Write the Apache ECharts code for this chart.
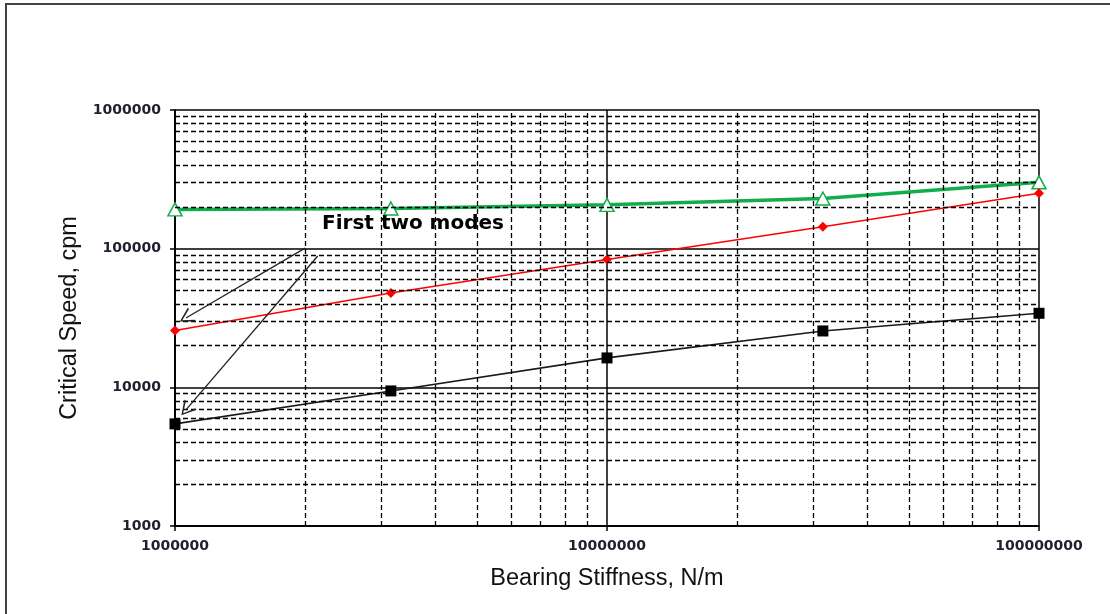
<!DOCTYPE html>
<html>
<head>
<meta charset="utf-8">
<script src="https://cdn.jsdelivr.net/npm/echarts@6/dist/echarts.min.js"></script>
<style>
html,body{margin:0;padding:0;background:#fff;}
#chart{width:1110px;height:614px;}
</style>
</head>
<body>
<div id="chart"></div>
<script>
// Bearing stiffness (N/m)
const stiffness = [1e6, 3.16e6, 1e7, 3.16e7, 1e8];
// Critical speeds (cpm)
const modeGreen = [192000, 195000, 207000, 230000, 301000];
const modeRed   = [25700, 47900, 83500, 144000, 251000];
const modeBlack = [5450, 9420, 16300, 25500, 34200];
// Tick labels
const xTickLabels = {1000000: '1000000', 10000000: '10000000', 100000000: '100000000'};
const yTickLabels = {1000: '1000', 10000: '10000', 100000: '100000', 1000000: '1000000'};
// Minor grid values (2..9 per decade)
const xMinor = [2e6,3e6,4e6,5e6,6e6,7e6,8e6,9e6,2e7,3e7,4e7,5e7,6e7,7e7,8e7,9e7];
const yMinor = [2e3,3e3,4e3,5e3,6e3,7e3,8e3,9e3,2e4,3e4,4e4,5e4,6e4,7e4,8e4,9e4,2e5,3e5,4e5,5e5,6e5,7e5,8e5,9e5];
// Annotation (data space)
const noteText = 'First two modes';
const notePos = [2.19e6, 152000];
const arrows = [
  [[2.0e6, 101000], [1.06e6, 31600]],
  [[2.14e6, 88500], [1.06e6, 6870]]
];

const pair = (xs, ys) => xs.map((x, i) => [x, ys[i]]);
const fontTick = {fontFamily: 'DejaVu Sans', fontSize: 14, fontWeight: 'bold', color: '#1f1f2e'};
const chevron = 'path://M5,0 L10,10 L8.8,10 L5,2.0 L1.2,10 L0,10 Z';

const chart = echarts.init(document.getElementById('chart'), null, {renderer: 'canvas'});
chart.setOption({
  animation: false,
  backgroundColor: '#fff',
  graphic: [{
    type: 'rect', shape: {x: 6, y: 4, width: 1300, height: 800},
    style: {fill: 'none', stroke: '#444', lineWidth: 2}, silent: true, z: 0
  }],
  grid: {left: 175, right: 71, top: 110, bottom: 88},
  xAxis: {
    type: 'log', logBase: 10, min: 1e6, max: 1e8,
    name: 'Bearing Stiffness, N/m', nameLocation: 'middle', nameGap: 41,
    nameTextStyle: {fontFamily: 'Liberation Sans', fontSize: 23.5, color: '#111'},
    axisLine: {show: true, lineStyle: {color: '#000', width: 1.5}},
    axisTick: {show: true, inside: false, length: 5, lineStyle: {color: '#000', width: 1.5}},
    axisLabel: Object.assign({margin: 13, formatter: v => xTickLabels[Math.round(v)] || ''}, fontTick),
    splitLine: {show: true, lineStyle: {color: '#000', width: 1.5}}
  },
  yAxis: {
    type: 'log', logBase: 10, min: 1000, max: 1e6,
    name: 'Critical Speed, cpm', nameLocation: 'middle', nameGap: 86,
    nameTextStyle: {fontFamily: 'Liberation Sans', fontSize: 23.5, color: '#111'},
    axisLine: {show: true, lineStyle: {color: '#000', width: 1.5}},
    axisTick: {show: true, inside: false, length: 5, lineStyle: {color: '#000', width: 1.5}},
    axisLabel: Object.assign({margin: 14, formatter: v => yTickLabels[Math.round(v)] || ''}, fontTick),
    splitLine: {show: true, lineStyle: {color: '#000', width: 1.5}}
  },
  series: [
    {
      type: 'line', z: 1, symbol: 'none', silent: true,
      lineStyle: {opacity: 0},
      data: [pair(stiffness, modeBlack)[0]],
      markLine: {
        silent: true, symbol: ['none', 'none'], animation: false,
        label: {show: false},
        lineStyle: {color: '#000', type: [5, 3], width: 1.3},
        emphasis: {disabled: true},
        data: xMinor.map(v => ({xAxis: v})).concat(yMinor.map(v => ({yAxis: v})))
      }
    },
    {
      name: 'Mode 3', type: 'line', z: 3,
      data: pair(stiffness, modeGreen),
      symbol: 'triangle', symbolSize: [14, 13],
      lineStyle: {color: '#12AD4B', width: 3.5},
      itemStyle: {color: '#fff', borderColor: '#12AD4B', borderWidth: 1.5}
    },
    {
      name: 'Mode 2', type: 'line', z: 3,
      data: pair(stiffness, modeRed),
      symbol: 'diamond', symbolSize: 10,
      lineStyle: {color: '#FF0000', width: 1.5},
      itemStyle: {color: '#FF0000'}
    },
    {
      name: 'Mode 1', type: 'line', z: 3,
      data: pair(stiffness, modeBlack),
      symbol: 'rect', symbolSize: 11,
      lineStyle: {color: '#1a1a1a', width: 1.6},
      itemStyle: {color: '#000'}
    },
    {
      type: 'line', z: 4, symbol: 'none', silent: true,
      lineStyle: {opacity: 0},
      data: [pair(stiffness, modeBlack)[0]],
      markPoint: {
        silent: true, symbol: 'circle', symbolSize: 0,
        label: {show: true, position: 'right', distance: 0, formatter: noteText,
          fontFamily: 'DejaVu Sans', fontWeight: 'bold', fontSize: 20, color: '#000'},
        data: [{coord: notePos}]
      },
      markLine: {
        silent: true, symbol: ['none', chevron], symbolSize: [16, 14], animation: false,
        label: {show: false},
        lineStyle: {color: '#222', type: 'solid', width: 1.3},
        emphasis: {disabled: true},
        data: arrows.map(a => [{coord: a[0]}, {coord: a[1]}])
      }
    }
  ]
});
</script>
</body>
</html>
